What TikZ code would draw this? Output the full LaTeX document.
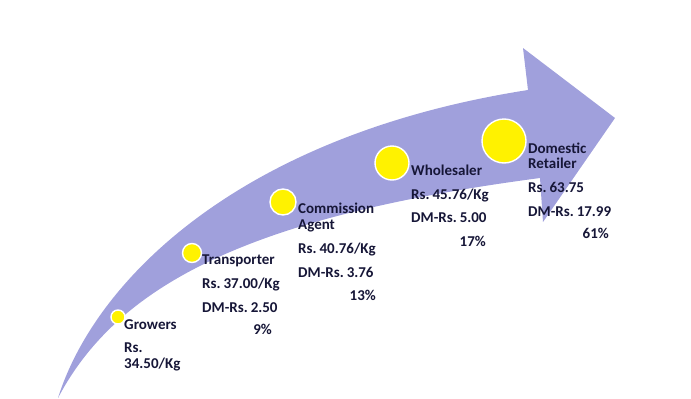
\documentclass[tikz,border=0pt]{standalone}
\usepackage{fontspec}
\setmainfont{Carlito}[WordSpace=0.55]
\definecolor{arrowfill}{RGB}{160,160,220}
\definecolor{txt}{RGB}{22,22,55}
\begin{document}
\begin{tikzpicture}[x=1pt,y=-1pt,
  stage/.style={circle,fill=yellow,draw=white,line width=1.4pt,inner sep=0pt,minimum size=#1},
  lbl/.style={anchor=base west,inner sep=0pt,text=txt,font=\fontsize{15}{15}\selectfont\bfseries},
  pct/.style={anchor=base east,inner sep=0pt,text=txt,font=\fontsize{15}{15}\selectfont\bfseries}]
\useasboundingbox (0,0) rectangle (691,399);
% curved arrow
\fill[arrowfill] (58,398) .. controls (95,280) and (240,135) .. (528,90)
  -- (523,48) -- (615,118) -- (543,222) -- (540,178)
  .. controls (260,215) and (120,280) .. (58,398) -- cycle;
% stages
\node[stage=14pt] (c1) at (118,317) {};
\node[stage=19pt] (c2) at (192,253) {};
\node[stage=26pt] (c3) at (283,202) {};
\node[stage=34pt] (c4) at (392,163) {};
\node[stage=44pt] (c5) at (504,141) {};
% Growers
\node[lbl] (g1) at (124,329) {Growers};
\node[lbl] (g2) at (124,352) {Rs.};
\node[lbl] (g3) at (124,368) {34.50/Kg};
% Transporter
\node[lbl] (t1) at (202,264) {Transporter};
\node[lbl] (t2) at (202,288) {Rs. 37.00/Kg};
\node[lbl] (t3) at (202,312) {DM-Rs. 2.50};
\node[pct] (t4) at (272,334) {9\%};
% Commission agent
\node[lbl] (a1) at (298,213) {Commission};
\node[lbl] (a2) at (298,229) {Agent};
\node[lbl] (a3) at (298,253) {Rs. 40.76/Kg};
\node[lbl] (a4) at (298,277) {DM-Rs. 3.76};
\node[pct] (a5) at (376,300) {13\%};
% Wholesaler
\node[lbl] (w1) at (411,175) {Wholesaler};
\node[lbl] (w2) at (411,199) {Rs. 45.76/Kg};
\node[lbl] (w3) at (411,222) {DM-Rs. 5.00};
\node[pct] (w4) at (486,246) {17\%};
% Domestic retailer
\node[lbl] (r1) at (528,153) {Domestic};
\node[lbl] (r2) at (528,168) {Retailer};
\node[lbl] (r3) at (528,192) {Rs. 63.75};
\node[lbl] (r4) at (528,216) {DM-Rs. 17.99};
\node[pct] (r5) at (609,238) {61\%};
\end{tikzpicture}
\end{document}
